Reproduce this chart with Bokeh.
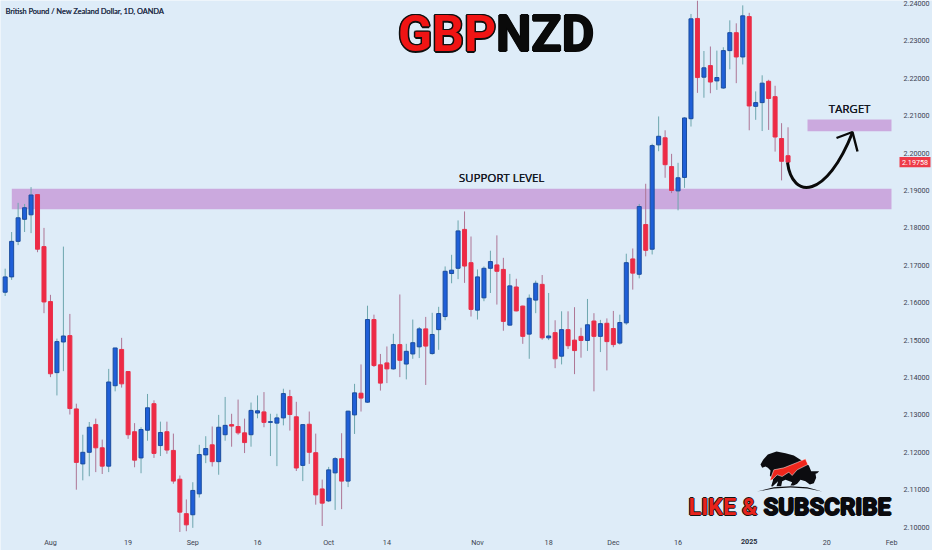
from bokeh.plotting import figure
from bokeh.embed import file_html
from bokeh.resources import INLINE
from bokeh.models import FixedTicker, CustomJSTickFormatter
from bokeh.core.properties import value
import numpy as np

opens = [2.1628,2.1669,2.1764,2.1823,2.1835,2.1889,2.1750,2.1603,2.1413,2.1495,2.1512,2.1316,2.1169,2.1200,2.1274,2.1212,2.1163,2.1378,2.1475,2.1416,
2.1255,2.1185,2.1259,2.1330,2.1218,2.1255,2.1205,2.1128,2.1036,2.1033,2.1089,2.1193,2.1220,2.1175,2.1247,2.1274,2.1269,
2.1252,2.1247,2.1305,2.1308,2.1280,2.1278,2.1292,2.1349,2.1295,2.1165,2.1275,2.1199,2.1102,2.1070,2.1145,2.1183,2.1123,2.1300,2.1358,2.1334,2.1555,2.1434,2.1439,2.1423,2.1488,2.1436,2.1463,2.1482,2.1530,2.1464,2.1528,2.1563,2.1678,2.1692,2.1796,
2.1707,2.1580,2.1613,2.1692,2.1701,2.1689,2.1540,2.1642,2.1591,2.1516,2.1607,2.1649,2.1506,2.1520,2.1457,2.1528,2.1500,2.1510,2.1499,2.1551,2.1510,2.1545,2.1531,2.1492,2.1546,2.1717,2.1676,
2.1809,2.1743,2.2022,2.2041,2.1964,2.1899,2.1935,2.2092,2.2360,2.2203,2.2234,2.2193,2.2174,2.2274,2.2322,2.2257,2.2365,2.2125,2.2135,2.2192,2.2151,2.2039,2.1993]
closes = [2.1669,2.1764,2.1827,2.1854,2.1888,2.1743,2.1602,2.1410,2.1496,2.1511,2.1317,2.1173,2.1200,2.1267,2.1212,2.1163,2.1388,2.1479,2.1383,2.1247,
2.1179,2.1261,2.1319,2.1197,2.1253,2.1206,2.1123,2.1040,2.1006,2.1098,2.1194,2.1210,2.1175,2.1267,2.1272,2.1270,2.1252,
2.1226,2.1312,2.1311,2.1280,2.1282,2.1292,2.1357,2.1301,2.1158,2.1274,2.1200,2.1086,2.1064,2.1153,2.1183,2.1123,2.1310,2.1359,2.1345,2.1555,2.1432,2.1385,2.1423,2.1488,2.1446,2.1470,2.1493,2.1530,2.1484,2.1515,2.1571,2.1684,2.1687,2.1792,2.1698,
2.1582,2.1669,2.1692,2.1710,2.1684,2.1550,2.1645,2.1578,2.1510,2.1612,2.1652,2.1506,2.1511,2.1450,2.1528,2.1485,2.1472,2.1499,2.1541,2.1510,2.1544,2.1496,2.1488,2.1547,2.1707,2.1679,2.1857,
2.1740,2.2020,2.2045,2.1969,2.1900,2.1934,2.2094,2.2359,2.2202,2.2228,2.2190,2.2202,2.2274,2.2322,2.2257,2.2367,2.2126,2.2135,2.2187,2.2146,2.2043,2.1978,2.19758]
highs = [2.1691,2.1789,2.1867,2.1864,2.1909,2.1889,2.1800,2.1621,2.1504,2.1750,2.1570,2.1330,2.1247,2.1281,2.1290,2.1234,2.1423,2.1479,2.1506,2.1416,
2.1278,2.1267,2.1356,2.1339,2.1282,2.1282,2.1250,2.1138,2.1074,2.1120,2.1220,2.1243,2.1269,2.1300,2.1348,2.1303,2.1341,
2.1290,2.1333,2.1352,2.1361,2.1303,2.1303,2.1370,2.1367,2.1335,2.1275,2.1309,2.1250,2.1127,2.1161,2.1187,2.1251,2.1311,2.1383,2.1435,2.1592,2.1568,2.1463,2.1483,2.1517,2.1622,2.1490,2.1555,2.1535,2.1562,2.1573,2.1589,2.1697,2.1728,2.1820,2.1844,
2.1777,2.1689,2.1697,2.1739,2.1780,2.1720,2.1677,2.1664,2.1592,2.1622,2.1659,2.1674,2.1626,2.1553,2.1577,2.1577,2.1588,2.1533,2.1610,2.1572,2.1554,2.1558,2.1578,2.1568,2.1731,2.1745,2.1864,
2.1918,2.2025,2.2098,2.2061,2.1998,2.1974,2.2096,2.2372,2.2408,2.2273,2.2285,2.2274,2.2283,2.2355,2.2347,2.2395,2.2375,2.2165,2.2208,2.2196,2.2180,2.2080,2.2069]
lows = [2.1618,2.1661,2.1754,2.1789,2.1786,2.1735,2.1572,2.1401,2.1352,2.1417,2.1301,2.1100,2.1125,2.1136,2.1147,2.1142,2.1147,2.1363,2.1373,2.1236,
2.1160,2.1144,2.1231,2.1185,2.1190,2.1196,2.1116,2.0987,2.0989,2.0998,2.1079,2.1171,2.1162,2.1140,2.1231,2.1215,2.1247,
2.1198,2.1215,2.1291,2.1267,2.1190,2.1163,2.1272,2.1258,2.1150,2.1123,2.1169,2.1060,2.1003,2.1067,2.1046,2.1048,2.1107,2.1249,2.1309,2.1332,2.1428,2.1365,2.1385,2.1421,2.1401,2.1395,2.1450,2.1452,2.1380,2.1461,2.1474,2.1553,2.1652,2.1663,2.1653,
2.1563,2.1555,2.1604,2.1626,2.1595,2.1525,2.1539,2.1577,2.1490,2.1450,2.1572,2.1501,2.1500,2.1425,2.1435,2.1476,2.1409,2.1453,2.1471,2.1363,2.1468,2.1419,2.1481,2.1488,2.1541,2.1635,2.1665,
2.1724,2.1729,2.2005,2.1934,2.1893,2.1847,2.1907,2.2071,2.2161,2.2148,2.2160,2.2169,2.2172,2.2224,2.2187,2.2237,2.2061,2.2089,2.2059,2.2062,2.2004,2.1927,2.1958]

price_ticks = [2.10,2.11,2.12,2.13,2.14,2.15,2.16,2.17,2.18,2.19,2.20,2.21,2.22,2.23,2.24]
time_ticks = [7,19,29,39,50,59,73,84,94,104,115,127,137]
time_labels = ["Aug","19","Sep","16","Oct","14","Nov","18","Dec","16","2025","20","Feb"]
last_price = 2.19758
support_zone = (2.18500, 2.19045)
target_zone = (2.20586, 2.20898)

BG = "#deecf8"
W, H = 932, 550
AXIS_X, AXIS_Y = 896, 534
X0, DX = 4.67, 6.47           # reference x of candle 0, candle spacing
PY = 3740.0                   # px per price unit
def fx(px): return (px - X0) / DX
def fy(py): return 2.24 - (py - 3) / PY

p = figure(width=W, height=H, output_backend="svg", toolbar_location=None,
           x_range=(fx(0), fx(W)), y_range=(fy(H), fy(0)),
           min_border=0, min_border_left=0, min_border_right=0,
           min_border_top=0, min_border_bottom=0,
           background_fill_color=BG, border_fill_color=BG,
           y_axis_location="right")
p.outline_line_color = None
p.grid.visible = False

ya = p.yaxis[0]
ya.fixed_location = fx(AXIS_X)
ya.ticker = FixedTicker(ticks=price_ticks)
ya.formatter = CustomJSTickFormatter(code="return tick.toFixed(5)")
ya.axis_line_color = None
ya.major_tick_line_color = None
ya.minor_tick_line_color = None
ya.major_tick_out = 0; ya.major_tick_in = 0
ya.major_label_standoff = 7
ya.major_label_text_font = "Roboto"
ya.major_label_text_font_size = "7.2px"
ya.major_label_text_color = "#3c4350"

xa = p.xaxis[0]
xa.fixed_location = fy(AXIS_Y)
xa.ticker = FixedTicker(ticks=time_ticks)
xa.major_label_overrides = {t: ("" if l == "2025" else l) for t, l in zip(time_ticks, time_labels)}
xa.axis_line_color = None
xa.major_tick_line_color = None
xa.minor_tick_line_color = None
xa.major_tick_out = 0; xa.major_tick_in = 0
xa.major_label_standoff = 3
xa.major_label_text_font = "Roboto"
xa.major_label_text_font_size = "7.2px"
xa.major_label_text_color = "#3c4350"

idx = np.arange(len(opens))
o, c, h, l = map(np.array, (opens, closes, highs, lows))
up = c >= o

# zones
p.quad(left=fx(11.3), right=fx(891), bottom=support_zone[0], top=support_zone[1],
       fill_color="#cba9de", line_color=None)
p.quad(left=fx(807), right=fx(891), bottom=target_zone[0], top=target_zone[1],
       fill_color="#cba9de", line_color=None)

# candles
p.segment(idx[up], l[up], idx[up], h[up], line_color="#6da6ae", line_width=1)
p.segment(idx[~up], l[~up], idx[~up], h[~up], line_color="#ad7595", line_width=1)
p.vbar(idx[up], 0.62, o[up], c[up], fill_color="#1f5fd8", line_color="#1b4d9e", line_width=1)
p.vbar(idx[~up], 0.62, c[~up], o[~up], fill_color="#ee2a45", line_color="#e8304a", line_width=1)

def txt(x, y, s, size, color, font="Roboto", style="bold", align="left", offs=((0, 0),)):
    for dx, dy in offs:
        p.text([x], [y], text=[s], text_font=value(font), text_font_size=size,
               text_font_style=style, text_color=color, text_align=align, text_baseline="middle",
               x_offset=dx, y_offset=dy)

ring = ((-1.5, 0), (1.5, 0), (0, -1.5), (0, 1.5), (-1.1, -1.1), (1.1, -1.1), (-1.1, 1.1), (1.1, 1.1))
fat = ((-1, 0), (1, 0), (0, -1), (0, 1), (0, 0))
# title
txt(fx(397.5), fy(33.5), "GBP", "50px", "#101010", offs=ring)
txt(fx(397.5), fy(33.5), "GBP", "50px", "#f01414")
txt(fx(495.5), fy(33.5), "NZD", "50px", "#0a0a0a", offs=fat)

# header
txt(fx(5), fy(11), "British Pound / New Zealand Dollar, 1D, OANDA", "7.4px", "#26304a", font="Lato", style="normal", offs=((0, 0), (0.2, 0)))

# annotations
txt(fx(501), fy(176.5), "SUPPORT LEVEL", "11.5px", "#10151f", font="Open Sans", style="normal", align="center", offs=((0, 0), (0.3, 0)))
txt(fx(849), fy(108), "TARGET", "11.5px", "#10151f", font="Open Sans", style="normal", align="center", offs=((0, 0), (0.3, 0)))

# arrow
p.bezier(x0=[fx(787)], y0=[fy(162)], x1=[fx(852)], y1=[fy(132)], cx0=[fx(792)], cy0=[fy(200)],
         cx1=[fx(826)], cy1=[fy(198)], line_color="#0a0a0a", line_width=3)
p.line([fx(836), fx(852), fx(857)], [fy(137.5), fy(131.5), fy(151)], line_color="#0a0a0a", line_width=2.4)

# logo icon
def sx(a): return [fx(650 + v / 3) for v in a]
def sy(a): return [fy(440 + v / 3) for v in a]
bx = [330,338,352,378,405,430,450,462,475,482,506,500,495,497,490,478,465,450,440,430,420,425,405,395,392,378,383,366,362,368,358,360,352,345,335]
by = [72,58,42,33,38,45,58,66,75,92,92,98,100,112,128,132,122,118,130,135,135,125,118,122,137,137,122,138,137,118,105,90,82,78,82]
p.patch(sx(bx), sy(by), fill_color="#0c0c10", line_color=None)
rx = [358,370,400,440,465,472,440,425,415,395,380,365]
ry = [120,88,82,66,55,72,88,105,95,108,103,118]
p.patch(sx(rx), sy(ry), fill_color="#f0261c", line_color="#ffffff", line_width=0.5)
p.patch(sx([320,370,420,470,515,470,420,370]), sy([153,140,137,140,153,144,141,144]), fill_color="#0c0c10", line_color=None)

# logo text
txt(fx(688), fy(506.5), "LIKE &", "23.5px", "#151515", offs=fat)
txt(fx(688), fy(506.5), "LIKE &", "23.5px", "#e8231c")
txt(fx(763), fy(506.5), "SUBSCRIBE", "24px", "#0b0b0f", offs=fat)

# price tag
p.quad(left=fx(899), right=fx(930), bottom=last_price - 5.2 / PY, top=last_price + 5.2 / PY,
       fill_color="#ee3a48", line_color=None)
txt(fx(914.5), last_price, f"{last_price:.5f}", "7.2px", "#ffffff", style="normal", align="center")

# bold year tick
txt(time_ticks[time_labels.index("2025")], fy(540.5), "2025", "7.2px", "#2a3040", align="center")

open("out.html", "w").write(file_html(p, INLINE))
